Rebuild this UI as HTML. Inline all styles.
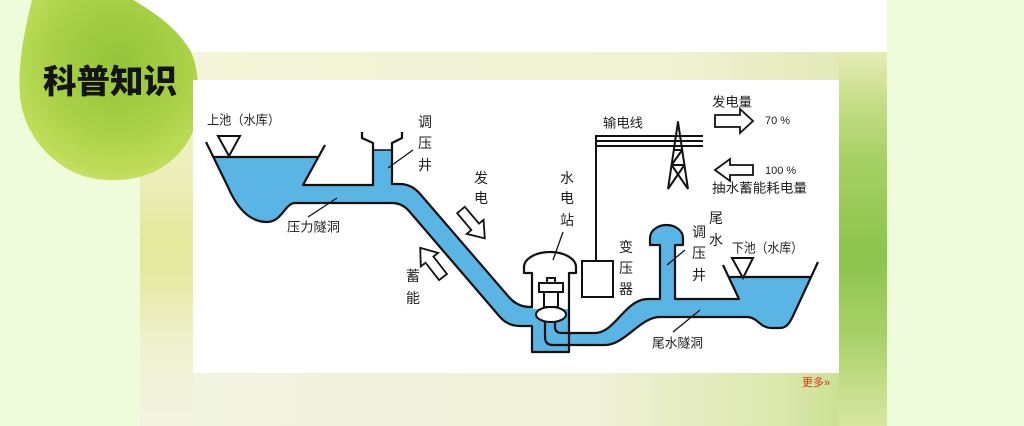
<!DOCTYPE html>
<html>
<head>
<meta charset="utf-8">
<style>
html,body{margin:0;padding:0;background:#eefcdc;}
body{width:1024px;height:426px;overflow:hidden;}
svg{display:block;}
text{font-family:"Liberation Sans","Noto Sans CJK SC",sans-serif;fill:#1e1e1e;}
</style>
</head>
<body>
<svg width="1024" height="426" viewBox="0 0 1024 426" xmlns="http://www.w3.org/2000/svg">
<defs>
  <linearGradient id="rb" x1="0" y1="0" x2="0" y2="1">
    <stop offset="0" stop-color="#e6ecb8"/>
    <stop offset="0.12" stop-color="#c9df8c"/>
    <stop offset="0.3" stop-color="#a4cf62"/>
    <stop offset="0.55" stop-color="#8cc44e"/>
    <stop offset="0.75" stop-color="#a6d066"/>
    <stop offset="0.9" stop-color="#c6de8a"/>
    <stop offset="1" stop-color="#d7e6a2"/>
  </linearGradient>
  <linearGradient id="bb" x1="0" y1="0" x2="1" y2="0">
    <stop offset="0" stop-color="#f1f3e2"/>
    <stop offset="0.6" stop-color="#f0f2da"/>
    <stop offset="0.85" stop-color="#dde8ae"/>
    <stop offset="1" stop-color="#bddb80"/>
  </linearGradient>
  <linearGradient id="tb" x1="0" y1="0" x2="1" y2="0">
    <stop offset="0" stop-color="#f4f4d8"/>
    <stop offset="0.7" stop-color="#f1f2d4"/>
    <stop offset="1" stop-color="#dfe8b0"/>
  </linearGradient>
  <linearGradient id="lb" x1="0" y1="0" x2="0" y2="1">
    <stop offset="0" stop-color="#f2f3d4"/>
    <stop offset="0.35" stop-color="#eceeb8"/>
    <stop offset="0.5" stop-color="#e3e99c"/>
    <stop offset="0.62" stop-color="#e6eba6"/>
    <stop offset="0.78" stop-color="#eff1d0"/>
    <stop offset="1" stop-color="#f2f3e2"/>
  </linearGradient>
  <radialGradient id="blob" cx="0.55" cy="0.35" r="0.7">
    <stop offset="0" stop-color="#95c53a"/>
    <stop offset="0.5" stop-color="#a6cf44"/>
    <stop offset="0.85" stop-color="#bedb58"/>
    <stop offset="1" stop-color="#cbe36c"/>
  </radialGradient>
</defs>

<!-- background -->
<rect x="0" y="0" width="1024" height="426" fill="#eefcdc"/>
<rect x="140" y="0" width="747" height="52" fill="#ffffff"/>
<!-- frame -->
<rect x="140" y="52" width="747" height="374" fill="#f1f3dc"/>
<rect x="140" y="52" width="747" height="28" fill="url(#tb)"/>
<rect x="140" y="373" width="747" height="53" fill="url(#bb)"/>
<rect x="140" y="52" width="53" height="374" fill="url(#lb)"/>
<rect x="839" y="52" width="48" height="374" fill="url(#rb)"/>

<!-- green blob -->
<path d="M32,0 L133,0 C150,10 175,25 190,50 C200,70 200,100 195,125 C188,150 165,172 135,178 C105,184 75,178 55,160 C35,145 22,120 20,95 C18,70 22,40 32,0 Z" fill="url(#blob)"/>
<text x="43" y="93" font-size="33" font-weight="bold" textLength="134" lengthAdjust="spacingAndGlyphs" style="fill:#141414;font-family:'Noto Sans CJK SC','WenQuanYi Zen Hei',sans-serif;font-weight:900">科普知识</text>

<!-- white panel -->
<rect x="193" y="80" width="646" height="293" fill="#ffffff"/>

<!-- water fills -->
<g fill="#5bb5e4" stroke="none">
  <path d="M213.5,157 L318.4,157 L303,185 L373,185 L373,150 L392,150 L392,184 L400,184 Q412,184 421,195 L508,296 Q517,307 530,307 L533,307 L533,326 L520,326 Q508,326 500,317 L409,211 Q402,203 392,203 L295,203 C285,203 282,222 267,222 C255,222 240,215 228,187 Z"/>
  <rect x="532" y="309" width="37" height="43"/>
  <path d="M555,322 L555,327 Q555,333 562,333 L595,333 C615,333 625,299 648,299 L660,299 L660,245 L650,245 L650,238 A16.5,13 0 0 1 683,238 L683,245 L675,245 L675,299 L739,299 L728.6,277 L811,277 L793,316 C790,322 787,328 780,328 L772,328 C760,328 758,318 748,317 L660,317 C640,317 625,345 605,345 L553,345 Q545,345 545,337 L545,322 Z"/>
</g>

<!-- outlines -->
<g fill="none" stroke="#111" stroke-width="2.2" stroke-linejoin="round">
  <path d="M206,142 L228,187 C240,215 255,222 267,222 C282,222 285,203 295,203 L392,203 Q402,203 409,211 L500,317 Q508,326 520,326 L532,326 L532,352 L569,352 L569,273 L576,273 L576,267 A26,15 0 0 0 524,267 L524,273 L532,273 L532,307 L530,307 Q517,307 508,296 L421,195 Q412,184 400,184 L392,184 L392,143 L402,138 L402,132"/>
  <path d="M325,145 L303,185 L373,185 L373,143 L362,138 L362,132"/>
  <path d="M213.5,157 L318.4,157"/>
  <path d="M555,322 L555,327 Q555,333 562,333 L595,333 C615,333 625,299 648,299 L660,299 L660,245 L650,245 L650,238 A16.5,13 0 0 1 683,238 L683,245 L675,245 L675,299 L739,299 L723,265"/>
  <path d="M545,322 L545,337 Q545,345 553,345 L605,345 C625,345 640,317 660,317 L748,317 C758,318 760,328 772,328 L780,328 C787,328 790,322 793,316 L818,262"/>
  <path d="M728.6,277 L811,277"/>
</g>
<path d="M373,150 L392,150" stroke="#111" stroke-width="1.5"/>

<!-- generator / turbine -->
<g fill="#fff" stroke="#111" stroke-width="2">
  <rect x="544" y="292" width="14" height="15"/>
  <rect x="539" y="283" width="24" height="9"/>
  <rect x="547" y="278" width="8" height="5"/>
  <ellipse cx="551" cy="314.5" rx="15" ry="7.5"/>
</g>

<!-- triangles -->
<g fill="#fff" stroke="#111" stroke-width="2" stroke-linejoin="miter">
  <path d="M218,136 L240,136 L229,156 Z"/>
  <path d="M732,258 L753,258 L743,278 Z"/>
</g>

<!-- transformer and lines -->
<g fill="none" stroke="#111" stroke-width="2">
  <rect x="582" y="261" width="31" height="36" fill="#fff"/>
  <path d="M596,261 L596,136 L703,136"/>
  <path d="M596,141 L703,141"/>
  <path d="M596,146 L703,146"/>
</g>
<!-- tower -->
<g fill="none" stroke="#111" stroke-width="2" stroke-linejoin="round">
  <path d="M668,189 L678,122 L688,189"/>
  <path d="M673.8,150 L682.2,150 L671.6,165 L684.4,165"/>
  <path d="M671.6,165 L688,189 M684.4,165 L668,189"/>
</g>

<!-- block arrows -->
<g fill="#fff" stroke="#111" stroke-width="1.8" stroke-linejoin="miter">
  <path d="M715,115 L740,115 L740,109 L753,121 L740,133 L740,127 L715,127 Z"/>
  <path d="M715,170 L730,159 L730,165 L753,165 L753,175 L730,175 L730,181 Z"/>
  <path transform="translate(461,210) rotate(50)" d="M0,-5 L22,-5 L22,-11 L37,0 L22,11 L22,5 L0,5 Z"/>
  <path transform="translate(443,277) rotate(-128)" d="M0,-5 L22,-5 L22,-11 L37,0 L22,11 L22,5 L0,5 Z"/>
</g>

<!-- leader lines -->
<g stroke="#111" stroke-width="1.3" fill="none">
  <path d="M388,168 L413,150"/>
  <path d="M308,217 L337,198"/>
  <path d="M553,260 L563,232"/>
  <path d="M667,265 L685,250"/>
  <path d="M673,332 L700,310"/>
</g>

<!-- horizontal labels -->
<g font-size="13" dominant-baseline="central">
  <text x="207" y="120" textLength="73" lengthAdjust="spacingAndGlyphs">上池（水库）</text>
  <text x="287" y="227" textLength="53" lengthAdjust="spacingAndGlyphs">压力隧洞</text>
  <text x="603" y="123" textLength="40" lengthAdjust="spacingAndGlyphs">输电线</text>
  <text x="712" y="102" textLength="40" lengthAdjust="spacingAndGlyphs">发电量</text>
  <text x="712" y="188" textLength="95" lengthAdjust="spacingAndGlyphs">抽水蓄能耗电量</text>
  <text x="732" y="248" textLength="71" lengthAdjust="spacingAndGlyphs">下池（水库）</text>
  <text x="652" y="343" textLength="51" lengthAdjust="spacingAndGlyphs">尾水隧洞</text>
</g>
<g font-size="11" dominant-baseline="central">
  <text x="765" y="121">70 %</text>
  <text x="765" y="171">100 %</text>
</g>

<!-- vertical labels -->
<g font-size="14" text-anchor="middle" dominant-baseline="central">
  <text x="425" y="122">调</text><text x="425" y="143">压</text><text x="425" y="165">井</text>
  <text x="481" y="178">发</text><text x="481" y="198">电</text>
  <text x="413" y="276">蓄</text><text x="413" y="298">能</text>
  <text x="567" y="178">水</text><text x="567" y="198">电</text><text x="567" y="220">站</text>
  <text x="626" y="247">变</text><text x="626" y="268">压</text><text x="626" y="289">器</text>
  <text x="716" y="218">尾</text><text x="716" y="240">水</text>
  <text x="699" y="232">调</text><text x="699" y="253">压</text><text x="699" y="275">井</text>
</g>

<!-- more link -->
<text x="802" y="383" font-size="11" dominant-baseline="central" style="fill:#e0321a">更多»</text>
</svg>
</body>
</html>
